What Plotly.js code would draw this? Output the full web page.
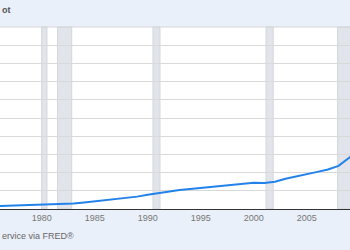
<!DOCTYPE html>
<html>
<head>
<meta charset="utf-8">
<script src="https://cdn.plot.ly/plotly-3.0.1.min.js"></script>
<style>html,body{margin:0;padding:0;background:#eaf0f9;}#chart{width:350px;height:250px;}</style>
</head>
<body>
<div id="chart"></div>
<script>
const years = [1975,1976,1977,1978,1979,1980,1981,1982,1983,1984,1985,1986,1987,1988,1989,1990,1991,1992,1993,1994,1995,1996,1997,1998,1999,2000,2001,2002,2003,2004,2005,2006,2007,2008,2009,2010];
const values = [0.14,0.16,0.17,0.18,0.19,0.20,0.22,0.25,0.30,0.36,0.42,0.48,0.54,0.60,0.68,0.78,0.88,0.96,1.04,1.10,1.16,1.23,1.30,1.36,1.41,1.44,1.43,1.50,1.66,1.80,1.92,2.04,2.17,2.37,2.82,3.30];
const recessionStarts = ['1980-01-01','1981-07-01','1990-07-01','2001-03-01','2007-12-01'];
const recessionEnds   = ['1980-07-01','1982-11-01','1991-03-01','2001-11-01','2009-06-01'];
const tickYears = [1980,1985,1990,1995,2000,2005];
const titleText = 'ot';
const sourceText = 'ervice via FRED®';

const xs = years.map(y => y + '-01-01');
const shapes = recessionStarts.map((s, i) => ({
  type: 'rect', xref: 'x', yref: 'paper', x0: s, x1: recessionEnds[i], y0: 0, y1: 1,
  fillcolor: '#e1e5eb', line: {color: '#d2d6dc', width: 1}, layer: 'below'
}));
shapes.push({type:'line', xref:'paper', yref:'paper', x0:0, x1:1, y0:1, y1:1, line:{color:'#d6d6d6', width:1}});

Plotly.newPlot('chart', [{
  x: xs, y: values, type: 'scatter', mode: 'lines',
  line: {color: '#2382ea', width: 2}, hoverinfo: 'skip'
}], {
  width: 350, height: 250,
  margin: {l: 0, r: 0, t: 27, b: 41, pad: 0},
  paper_bgcolor: '#eaf0f9', plot_bgcolor: '#ffffff',
  showlegend: false,
  font: {family: 'Liberation Sans, Arial, sans-serif', size: 9, color: '#777'},
  xaxis: {
    type: 'date', range: ['1976-01-26', '2009-01-30'],
    tickvals: tickYears.map(y => y + '-01-01'), ticktext: tickYears.map(String),
    showgrid: false, zeroline: false, showline: true, linecolor: '#333', linewidth: 1,
    ticks: '', tickfont: {size: 9, color: '#777'}, fixedrange: true
  },
  yaxis: {
    range: [0, 10], dtick: 1, tick0: 0, showticklabels: false,
    gridcolor: '#d9d9d9', gridwidth: 1, zeroline: false, showline: false, ticks: '', fixedrange: true
  },
  shapes: shapes,
  annotations: [
    {text: titleText, xref: 'paper', yref: 'paper', x: 0, y: 1.093, xanchor: 'left', yanchor: 'middle',
     showarrow: false, font: {size: 9, color: '#555', family: 'Liberation Sans, Arial, sans-serif', weight: 'bold'}},
    {text: sourceText, xref: 'paper', yref: 'paper', x: 0, y: -0.148, xanchor: 'left', yanchor: 'middle',
     showarrow: false, font: {size: 9, color: '#666', family: 'Liberation Sans, Arial, sans-serif'}}
  ]
}, {staticPlot: true, displayModeBar: false});
</script>
</body>
</html>
